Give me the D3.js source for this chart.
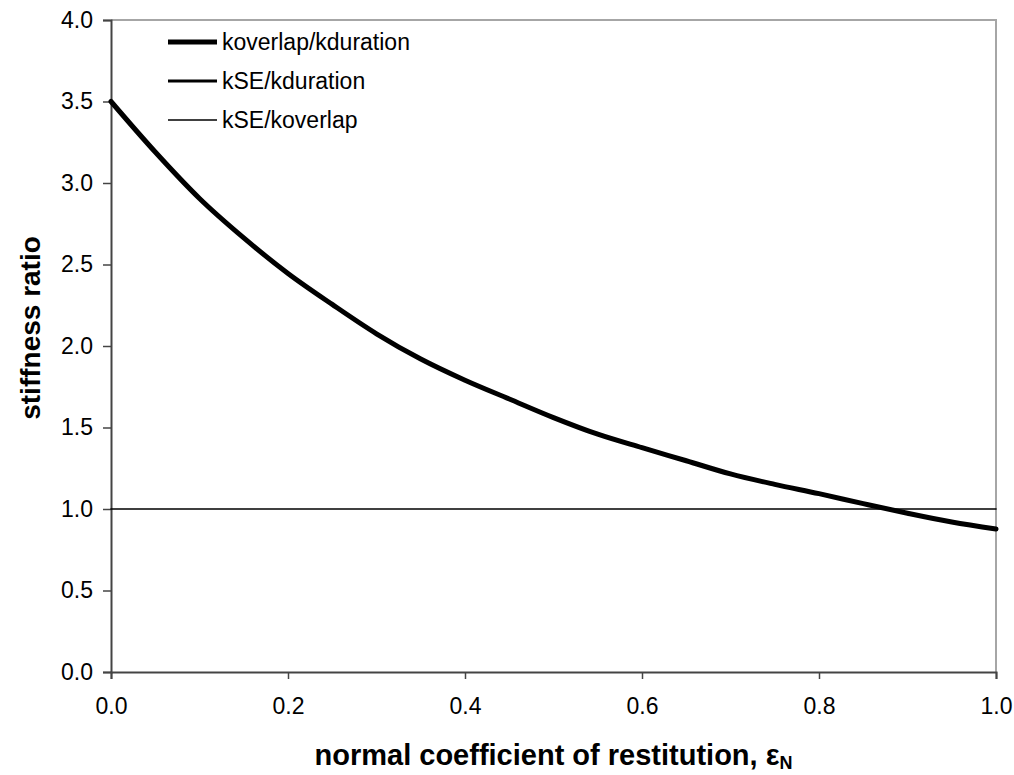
<!DOCTYPE html>
<html>
<head>
<meta charset="utf-8">
<script src="https://cdn.jsdelivr.net/npm/d3@7"></script>
<style>
  body { margin: 0; background: #fff; }
  svg { display: block; font-family: "Liberation Sans", Arial, sans-serif; }
  .tick text { font-size: 23px; fill: #000; }
</style>
</head>
<body>
<div id="chart"></div>
<script>
// normal coefficient of restitution (x) and stiffness ratios (y)
const restitution = [0.00, 0.05, 0.10, 0.15, 0.20, 0.25, 0.30, 0.35, 0.40, 0.45, 0.50,
                     0.55, 0.60, 0.65, 0.70, 0.75, 0.80, 0.85, 0.90, 0.95, 1.00];
const overlapOverDuration = [3.50, 3.19, 2.905, 2.663, 2.445, 2.255, 2.075, 1.92, 1.79, 1.675, 1.561,
                             1.459, 1.376, 1.296, 1.215, 1.151, 1.094, 1.033, 0.974, 0.92, 0.877];
const seOverDuration = overlapOverDuration.slice();
const seOverOverlap = restitution.map(() => 1.0);

const seriesNames = ['koverlap/kduration', 'kSE/kduration', 'kSE/koverlap'];
const seriesWidths = [5, 3, 1.6];

const xTicks = [0, 0.2, 0.4, 0.6, 0.8, 1.0];
const yTicks = [0, 0.5, 1.0, 1.5, 2.0, 2.5, 3.0, 3.5, 4.0];

// layout
const W = 1014, H = 775;
const margin = { top: 20, right: 18, bottom: 103, left: 111 };
const width = W - margin.left - margin.right;
const height = H - margin.top - margin.bottom;

const svg = d3.select('#chart')
    .append('svg')
    .attr('width', W)
    .attr('height', H);

const g = svg.append('g')
    .attr('transform', `translate(${margin.left}, ${margin.top})`);

const x = d3.scaleLinear().domain([0, 1]).range([0, width]);
const y = d3.scaleLinear().domain([0, 4]).range([height, 0]);

// top and right frame
g.append('path')
    .attr('d', `M0,0H${width}V${height}`)
    .attr('fill', 'none')
    .attr('stroke', '#a6a6a6')
    .attr('stroke-width', 2);

// axes
const xAxis = g.append('g')
    .attr('transform', `translate(0, ${height})`)
    .call(d3.axisBottom(x).tickValues(xTicks).tickFormat(d3.format('.1f')).tickSize(7).tickPadding(19));

const yAxis = g.append('g')
    .call(d3.axisLeft(y).tickValues(yTicks).tickFormat(d3.format('.1f')).tickSize(8).tickPadding(10));

[xAxis, yAxis].forEach(a => {
    a.select('.domain').attr('stroke', '#444').attr('stroke-width', 2);
    a.selectAll('.tick line').attr('stroke', '#444').attr('stroke-width', 1.5);
});
xAxis.selectAll('.tick text').attr('dy', '0.71em');

// series
const line = d3.line()
    .x((d, i) => x(restitution[i]))
    .y(d => y(d))
    .curve(d3.curveMonotoneX);

const series = [seOverOverlap, seOverDuration, overlapOverDuration];
const seriesIdx = [2, 1, 0];
series.forEach((vals, k) => {
    g.append('path')
        .datum(vals)
        .attr('d', line)
        .attr('fill', 'none')
        .attr('stroke', '#000')
        .attr('stroke-width', seriesWidths[seriesIdx[k]])
        .attr('stroke-linejoin', 'round')
        .attr('stroke-linecap', 'round');
});

// legend
const legend = svg.append('g').attr('transform', 'translate(168, 42)');
const items = legend.selectAll('g')
    .data(seriesNames)
    .enter()
    .append('g')
    .attr('transform', (d, i) => `translate(0, ${i * 39})`);

items.append('line')
    .attr('x1', 0).attr('x2', 49)
    .attr('stroke', '#000')
    .attr('stroke-width', (d, i) => seriesWidths[i]);

items.append('text')
    .attr('x', 54)
    .attr('dy', '0.36em')
    .style('font-size', '23px')
    .text(d => d);

// axis titles
svg.append('text')
    .attr('transform', `translate(40, ${margin.top + height / 2 - 18}) rotate(-90)`)
    .attr('text-anchor', 'middle')
    .style('font-size', '28px')
    .style('font-weight', 'bold')
    .text('stiffness ratio');

const xTitle = svg.append('text')
    .attr('x', margin.left + width / 2)
    .attr('y', 765)
    .attr('text-anchor', 'middle')
    .style('font-size', '29px')
    .style('font-weight', 'bold');
xTitle.append('tspan').text('normal coefficient of restitution, ');
xTitle.append('tspan').text('ε');
xTitle.append('tspan')
    .attr('dy', 4)
    .style('font-size', '18px')
    .text('N');
</script>
</body>
</html>
